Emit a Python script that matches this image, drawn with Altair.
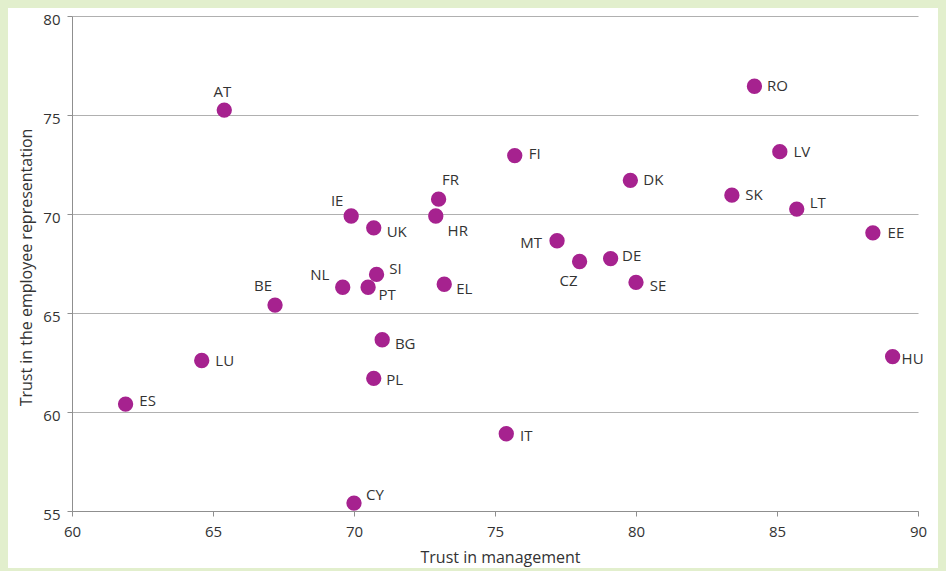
import altair as alt
import pandas as pd

countries = ["AT", "IE", "UK", "FR", "HR", "SI", "NL", "PT", "EL", "BE",
             "RO", "FI", "LV", "DK", "SK", "LT", "EE", "MT", "CZ", "DE",
             "SE", "BG", "LU", "PL", "ES", "CY", "HU", "IT"]
trust_management = [65.4, 69.9, 70.7, 73.0, 72.9, 70.8, 69.6, 70.5, 73.2, 67.2,
                    84.2, 75.7, 85.1, 79.8, 83.4, 85.7, 88.4, 77.2, 78.0, 79.1,
                    80.0, 71.0, 64.6, 70.7, 61.9, 70.0, 89.1, 75.4]
trust_representation = [75.25, 69.9, 69.3, 70.75, 69.9, 66.95, 66.3, 66.3, 66.45, 65.4,
                        76.45, 72.95, 73.15, 71.7, 70.95, 70.25, 69.05, 68.65, 67.6, 67.75,
                        66.55, 63.65, 62.6, 61.7, 60.4, 55.4, 62.8, 58.9]

# label offsets in pixels (style only)
label_offsets = {
    "AT": (-2, -18), "IE": (-14, -15), "UK": (23, 4), "FR": (12, -19),
    "HR": (22, 15), "SI": (19, -5), "NL": (-23, -12), "PT": (19, 8),
    "EL": (20, 5), "BE": (-12, -19), "RO": (23, 0), "FI": (20, -2),
    "LV": (22, 0), "DK": (23, 0), "SK": (22, 0), "LT": (21, -6),
    "EE": (23, 0), "MT": (-26, 2), "CZ": (-11, 19), "DE": (21, -3),
    "SE": (22, 4), "BG": (23, 4), "LU": (23, 0), "PL": (21, 2),
    "ES": (22, -3), "CY": (21, -8), "HU": (20, 2), "IT": (20, 2),
}

df = pd.DataFrame({
    "country": countries,
    "mgmt": trust_management,
    "rep": trust_representation,
})

FONT = "Open Sans"
TEXT = "#333333"
AXIS = "#8f8f8f"
GRID = "#b0b0b0"
DOT = "#a6228f"

x_enc = alt.X(
    "mgmt:Q",
    scale=alt.Scale(domain=[60, 90], nice=False, zero=False),
    axis=alt.Axis(
        title="Trust in management",
        values=[60, 65, 70, 75, 80, 85, 90],
        grid=False,
        domainColor=AXIS, tickColor=AXIS, tickSize=5,
        labelFont=FONT, labelFontSize=15, labelColor=TEXT,
        labelBaseline="middle", labelPadding=15, labelFlush=False,
        titleFont=FONT, titleFontSize=16, titleFontWeight="normal",
        titleColor=TEXT, titleX=428, titleY=46,
        titleBaseline="middle", titleAlign="center",
    ),
)
y_enc = alt.Y(
    "rep:Q",
    scale=alt.Scale(domain=[55, 80], nice=False, zero=False),
    axis=alt.Axis(
        title="Trust in the employee representation",
        values=[55, 60, 65, 70, 75, 80],
        grid=True, gridColor=GRID, gridWidth=1.2,
        domainColor=AXIS, tickColor=AXIS, tickSize=5,
        labelFont=FONT, labelFontSize=15, labelColor=TEXT,
        labelPadding=7, labelFlush=False, labelOffset=3,
        titleFont=FONT, titleFontSize=16, titleFontWeight="normal",
        titleColor=TEXT, titleX=-46, titleY=251,
        titleBaseline="middle", titleAlign="center",
    ),
)

points = alt.Chart(df).mark_circle(size=235, color=DOT, opacity=1).encode(
    x=x_enc, y=y_enc
)

layers = [points]
for c in countries:
    dx, dy = label_offsets[c]
    layers.append(
        alt.Chart(df[df["country"] == c]).mark_text(
            dx=dx, dy=dy, font=FONT, fontSize=15, color=TEXT,
            align="center", baseline="middle",
        ).encode(x=x_enc, y=y_enc, text="country:N")
    )

chart = alt.layer(*layers).properties(
    width=846,
    height=495,
    autosize=alt.AutoSizeParams(type="none"),
    padding={"left": 64, "top": 8, "right": 20, "bottom": 57},
    background="white",
).configure_view(stroke=None)

chart.save("out.html", embed_options={
    "renderer": "svg",
    "actions": False,
    "defaultStyle": "body{background:#e2efcd;margin:8px;}",
})
